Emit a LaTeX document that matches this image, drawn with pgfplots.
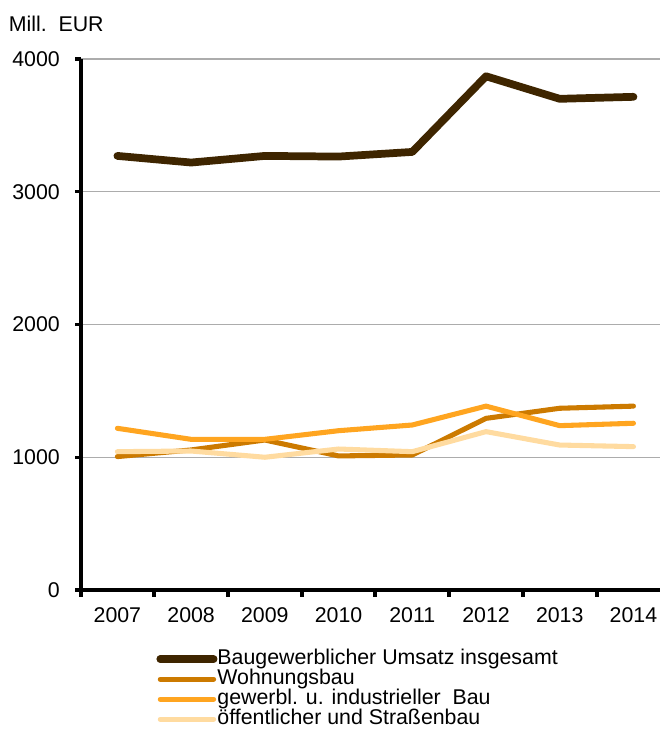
\documentclass[border=0pt]{standalone}
\usepackage{pgfplots}
\pgfplotsset{compat=1.18}
\usepackage{fontspec}
\setmainfont{Liberation Sans}
\definecolor{cTot}{HTML}{3E2500}
\definecolor{cWohn}{HTML}{CC7A00}
\definecolor{cGew}{HTML}{FFA520}
\definecolor{cOeff}{HTML}{FFDBA0}
\begin{document}
\begin{tikzpicture}[font=\fontsize{16}{18}\selectfont]
\begin{axis}[
  name=ax,
  scale only axis,
  width=434.6pt, height=398.25pt,
  xmin=-0.5, xmax=7.36,
  ymin=0, ymax=4000,
  axis x line*=bottom, axis y line*=left,
  axis line style={line width=3pt, black, shorten <=-1.5pt},
  xtick={0,...,7},
  xticklabels={2007,2008,2009,2010,2011,2012,2013,2014},
  major x tick style={draw=none},
  minor xtick={-0.5,0.5,1.5,2.5,3.5,4.5,5.5,6.5},
  minor x tick style={line width=3pt, black},
  minor tick length=5pt,
  ytick={0,1000,2000,3000,4000},
  major y tick style={line width=2.5pt, black},
  major tick length=4pt,
  tick align=outside,
  ymajorgrids,
  y grid style={gray!65, line width=0.8pt},
  /pgf/number format/assume math mode=true,
  /pgf/number format/1000 sep={},
  yticklabel style={xshift=-8pt},
  xticklabel style={yshift=-6pt},
  legend style={at={(0.1305,-0.111)}, anchor=north west, draw=none, fill=none,
    legend cell align=left, row sep=0pt, column sep=0pt, inner sep=0pt,
    nodes={inner sep=0pt, text height=11.5pt, text depth=3.5pt}},
  legend image code/.code={\draw[#1, line cap=round] (0pt,0pt) -- (40pt,0pt);},
  clip=false,
]
\addplot[cTot, line width=5.8pt, line cap=round, line join=round] coordinates {
(0,3270) (1,3220) (2,3270) (3,3265) (4,3300) (5,3870) (6,3700) (7,3715)};
\addlegendentry{Baugewerblicher Umsatz insgesamt}
\addplot[cWohn, line width=3.8pt, line cap=round, line join=round] coordinates {
(0,1005) (1,1055) (2,1130) (3,1010) (4,1017) (5,1293) (6,1369) (7,1385)};
\addlegendentry{Wohnungsbau}
\addplot[cGew, line width=3.8pt, line cap=round, line join=round] coordinates {
(0,1218) (1,1135) (2,1135) (3,1200) (4,1243) (5,1385) (6,1238) (7,1256)};
\addlegendentry{gewerbl. u. industrieller\ \ Bau}
\addplot[cOeff, line width=3.8pt, line cap=round, line join=round] coordinates {
(0,1042) (1,1047) (2,1000) (3,1062) (4,1042) (5,1193) (6,1092) (7,1080)};
\addlegendentry{öffentlicher und Straßenbau}
\node[anchor=base west, inner sep=0pt] at ([xshift=-54pt, yshift=21pt]rel axis cs:0,1) {Mill.\ \ EUR};
\end{axis}
\pgfresetboundingbox
\path ([xshift=-60.4pt, yshift=-104.25pt]ax.south west) rectangle ([xshift=2.25pt, yshift=44.25pt]ax.north east);
\end{tikzpicture}
\end{document}
